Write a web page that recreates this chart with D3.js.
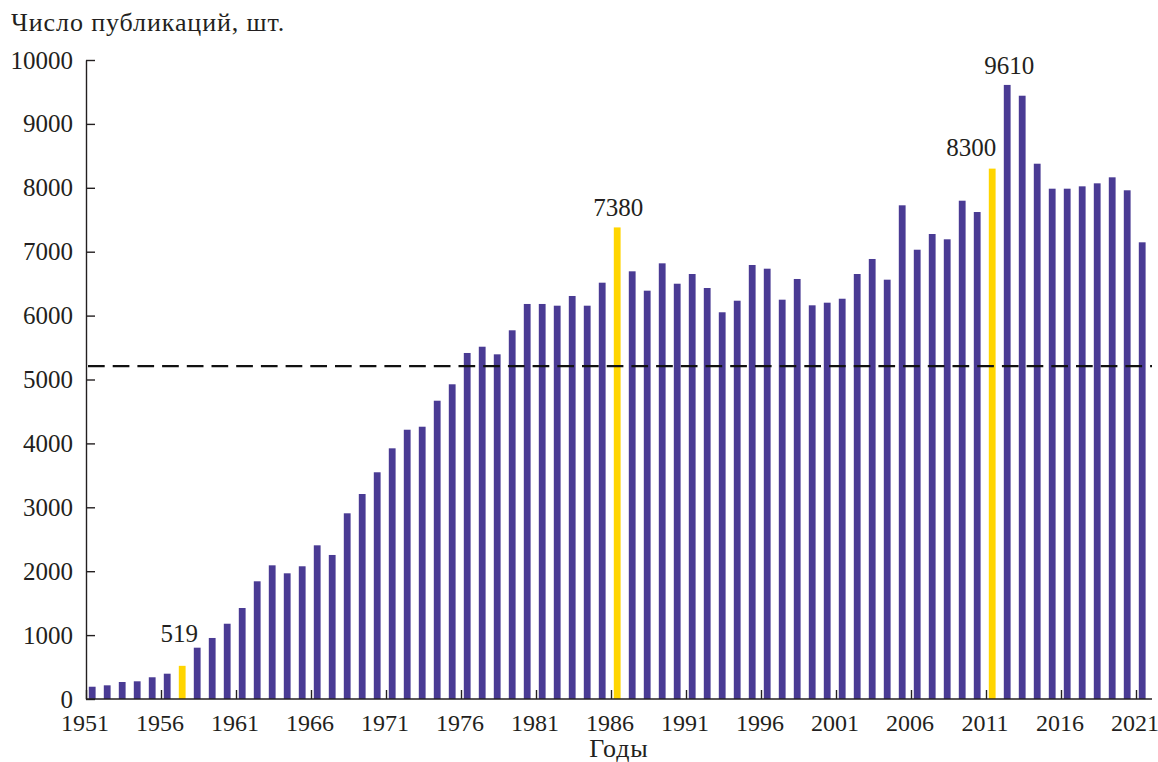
<html>
<head>
<meta charset="utf-8">
<title>Число публикаций</title>
<script src="https://d3js.org/d3.v7.min.js"></script>
<style>
  body{margin:0;background:#fff;}
  text{font-family:"Liberation Serif","DejaVu Serif",serif;fill:#231f20;}
  .axis path,.axis line{stroke:#231f20;stroke-width:1.4;}
  .axis text{font-size:25px;font-family:"Liberation Serif",serif;fill:#231f20;}
  .xaxis text{font-size:24px;}
</style>
</head>
<body>
<script>
// data
const years = d3.range(1951, 2022);
const counts = [
  192, 214, 266, 277, 340, 396, 519, 803, 955, 1178,
  1424, 1842, 2092, 1967, 2077, 2405, 2254, 2906, 3208, 3548,
  3923, 4214, 4261, 4668, 4925, 5415, 5513, 5394, 5770, 6182,
  6182, 6155, 6307, 6155, 6515, 7380, 6693, 6390, 6818, 6499,
  6651, 6432, 6052, 6233, 6792, 6734, 6249, 6573, 6161, 6202,
  6264, 6651, 6886, 6562, 7726, 7031, 7277, 7194, 7798, 7621,
  8300, 9610, 9441, 8377, 7986, 7986, 8023, 8070, 8164, 7961,
  7147
];
const highlightYears = [1957, 1986, 2011];
const labelYears = [1957, 1986, 2011, 2012];
const labelTexts = ["519", "7380", "8300", "9610"];
const yTicks = [0, 1000, 2000, 3000, 4000, 5000, 6000, 7000, 8000, 9000, 10000];
const xTicks = [1951, 1956, 1961, 1966, 1971, 1976, 1981, 1986, 1991, 1996, 2001, 2006, 2011, 2016, 2021];
const meanLevel = 5210;

const W = 1158, H = 762;
const m = {left:86, right:1152, top:60, bottom:699};

const svg = d3.select("body").append("svg")
  .attr("width", W).attr("height", H);

const x = d3.scaleLinear().domain([1951, 2022]).range([m.left, m.left + 71 * 15]);
const y = d3.scaleLinear().domain([0, 10000]).range([m.bottom, m.top]);

const barW = 6.8;
const barOff = 2.8; // bar sits just right of its year tick

// bars
svg.append("g").selectAll("rect")
  .data(years)
  .join("rect")
  .attr("x", d => x(d) + barOff)
  .attr("width", barW)
  .attr("y", (d, i) => y(counts[i]))
  .attr("height", (d, i) => m.bottom - y(counts[i]))
  .attr("fill", d => highlightYears.includes(d) ? "#ffd500" : "#4a3b94");

// dashed level
svg.append("line")
  .attr("x1", m.left + 2).attr("x2", m.right)
  .attr("y1", y(meanLevel)).attr("y2", y(meanLevel))
  .attr("stroke", "#111")
  .attr("stroke-width", 2.2)
  .attr("stroke-dasharray", "16.7,8");

// axes
svg.append("g")
  .attr("class", "axis")
  .attr("transform", "translate(" + m.left + ",0)")
  .call(d3.axisLeft(y).tickValues(yTicks).tickFormat(d3.format("d"))
    .tickSizeInner(-9).tickSizeOuter(0).tickPadding(13));

const xAxis = svg.append("g")
  .attr("class", "axis xaxis")
  .attr("transform", "translate(0," + m.bottom + ")")
  .call(d3.axisBottom(x).tickValues(xTicks).tickFormat(d3.format("d"))
    .tickSizeInner(-9).tickSizeOuter(0).tickPadding(15));
xAxis.select(".domain").attr("d", "M" + m.left + ",0H" + m.right);
xAxis.selectAll(".tick text").attr("dx", -1.5);

// value labels
const labelDx = {1957: -3, 1986: 1, 2011: -21, 2012: 2};
const labelDy = {1957: -24, 1986: -11, 2011: -13, 2012: -11};
svg.append("g").selectAll("text")
  .data(labelYears)
  .join("text")
  .attr("x", d => x(d) + barOff + barW / 2 + labelDx[d])
  .attr("y", d => y(counts[years.indexOf(d)]) + labelDy[d])
  .attr("text-anchor", "middle")
  .attr("font-size", 25)
  .text((d, i) => labelTexts[i]);

// titles
svg.append("text")
  .attr("x", 11).attr("y", 31)
  .attr("font-size", 26)
  .attr("letter-spacing", 0.9)
  .text("Число публикаций, шт.");

svg.append("text")
  .attr("x", 619).attr("y", 757)
  .attr("text-anchor", "middle")
  .attr("font-size", 26)
  .attr("letter-spacing", 1)
  .text("Годы");
</script>
</body>
</html>
